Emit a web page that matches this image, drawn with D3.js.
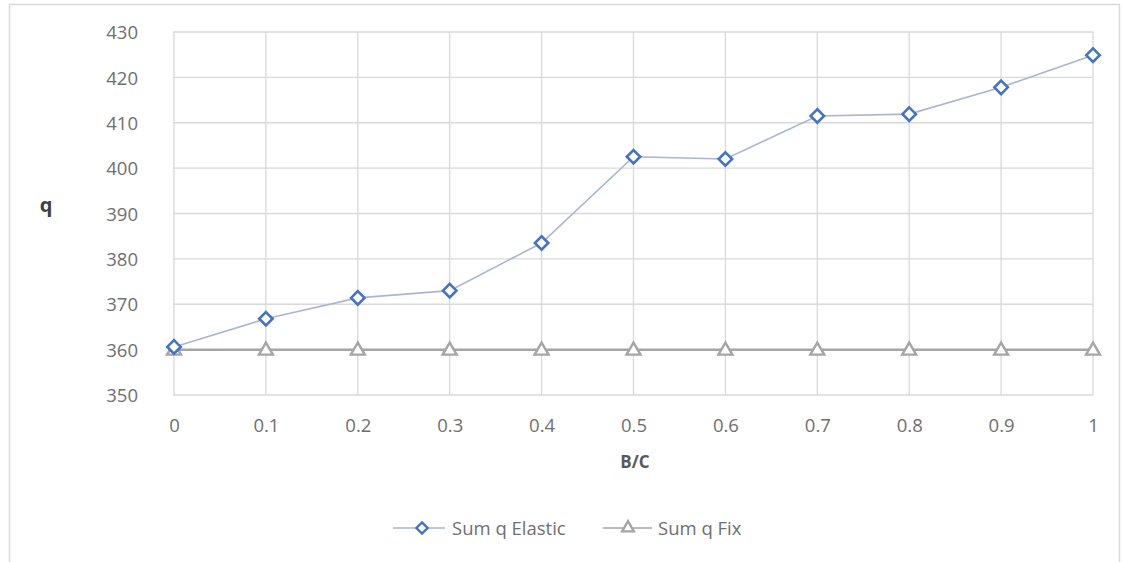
<!DOCTYPE html>
<html><head><meta charset="utf-8">
<script src="https://cdn.jsdelivr.net/npm/d3@7"></script>
<style>body{margin:0;background:#fff}svg{display:block}</style>
</head><body>
<svg id="c" width="1122" height="562"></svg>
<script>
const categories = [0, 0.1, 0.2, 0.3, 0.4, 0.5, 0.6, 0.7, 0.8, 0.9, 1];
const categoryLabels = ["0","0.1","0.2","0.3","0.4","0.5","0.6","0.7","0.8","0.9","1"];
const sumQElastic = [360.6, 366.8, 371.4, 373.0, 383.5, 402.5, 402.0, 411.5, 411.9, 417.8, 424.9];
const sumQFix = [360, 360, 360, 360, 360, 360, 360, 360, 360, 360, 360];
const yTicks = [350, 360, 370, 380, 390, 400, 410, 420, 430];
const seriesNames = ["Sum q Elastic", "Sum q Fix"];

const svg = d3.select("#c");
const font = "'Open Sans', 'Noto Sans', sans-serif";
const txt = "#6f6f6f";

svg.append("rect").attr("x",9.5).attr("y",4.5).attr("width",1110).attr("height",570)
  .attr("fill","none").attr("stroke","#d9d9d9").attr("stroke-width",1.5);

const x = d3.scalePoint().domain(categories).range([174, 1093]);
const y = d3.scaleLinear().domain([350, 430]).range([395, 32]);

const g = svg.append("g");
g.selectAll(".hg").data(yTicks).enter().append("line")
  .attr("x1",173).attr("x2",1093).attr("y1",d=>y(d)).attr("y2",d=>y(d))
  .attr("stroke","#d9d9d9").attr("stroke-width",1.3);
g.selectAll(".vg").data(categories).enter().append("line")
  .attr("x1",d=>x(d)).attr("x2",d=>x(d)).attr("y1",y(430)).attr("y2",y(350))
  .attr("stroke","#d9d9d9").attr("stroke-width",1.3);

const yAxis = d3.axisLeft(y).tickValues(yTicks).tickSize(0).tickPadding(0);
const ya = svg.append("g").attr("transform","translate(138,0)").call(yAxis);
ya.select(".domain").remove();
ya.selectAll("text").attr("font-family",font).attr("font-size",18.5).attr("fill",txt).attr("dy","0.36em");

const xAxis = d3.axisBottom(x).tickFormat((d,i)=>categoryLabels[i]).tickSize(0).tickPadding(0);
const xa = svg.append("g").attr("transform","translate(0,425)").call(xAxis);
xa.select(".domain").remove();
xa.selectAll("text").attr("font-family",font).attr("font-size",18.5).attr("fill",txt).attr("dy","0.36em");

svg.append("text").attr("x",635).attr("y",468).attr("text-anchor","middle")
  .attr("font-family",font).attr("font-size",17).attr("font-weight","bold").attr("fill","#595959").text("B/C");
svg.append("text").attr("x",46).attr("y",212).attr("text-anchor","middle")
  .attr("font-family",font).attr("font-size",20).attr("font-weight","bold").attr("fill","#404040").text("q");

const line = d3.line().x((d,i)=>x(categories[i])).y(d=>y(d));
svg.append("path").datum(sumQFix).attr("d",line).attr("fill","none")
  .attr("stroke","#a5a5a5").attr("stroke-width",2.5);
svg.append("path").datum(sumQElastic).attr("d",line).attr("fill","none")
  .attr("stroke","#aab5d3").attr("stroke-width",1.6);

const diamond = d3.symbol().type(d3.symbolDiamond2).size(115);
const tri = d3.symbol().type(d3.symbolTriangle).size(85);

svg.selectAll(".tm").data(sumQFix).enter().append("path")
  .attr("d",tri).attr("transform",(d,i)=>`translate(${x(categories[i])},${y(d)+1})`)
  .attr("fill","#fff").attr("stroke","#a5a5a5").attr("stroke-width",2.4);
svg.selectAll(".dm").data(sumQElastic).enter().append("path")
  .attr("d",diamond).attr("transform",(d,i)=>`translate(${x(categories[i])},${y(d)})`)
  .attr("fill","#fff").attr("stroke","#4472c4").attr("stroke-width",2.6);

const ly = 528;
svg.append("line").attr("x1",393).attr("x2",445).attr("y1",ly).attr("y2",ly).attr("stroke","#aab5d3").attr("stroke-width",1.6);
svg.append("path").attr("d",d3.symbol().type(d3.symbolDiamond2).size(80)).attr("transform",`translate(422,${ly})`)
  .attr("fill","#fff").attr("stroke","#4472c4").attr("stroke-width",2.4);
svg.append("text").attr("x",452).attr("y",ly).attr("dy","0.36em").attr("font-family",font).attr("font-size",18.5).attr("fill",txt).text(seriesNames[0]);
svg.append("line").attr("x1",603).attr("x2",652).attr("y1",ly).attr("y2",ly).attr("stroke","#a5a5a5").attr("stroke-width",1.6);
svg.append("path").attr("d",d3.symbol().type(d3.symbolTriangle).size(60)).attr("transform",`translate(628,${ly})`)
  .attr("fill","#fff").attr("stroke","#a5a5a5").attr("stroke-width",2.4);
svg.append("text").attr("x",658).attr("y",ly).attr("dy","0.36em").attr("font-family",font).attr("font-size",18.5).attr("fill",txt).text(seriesNames[1]);
</script>
</body></html>
